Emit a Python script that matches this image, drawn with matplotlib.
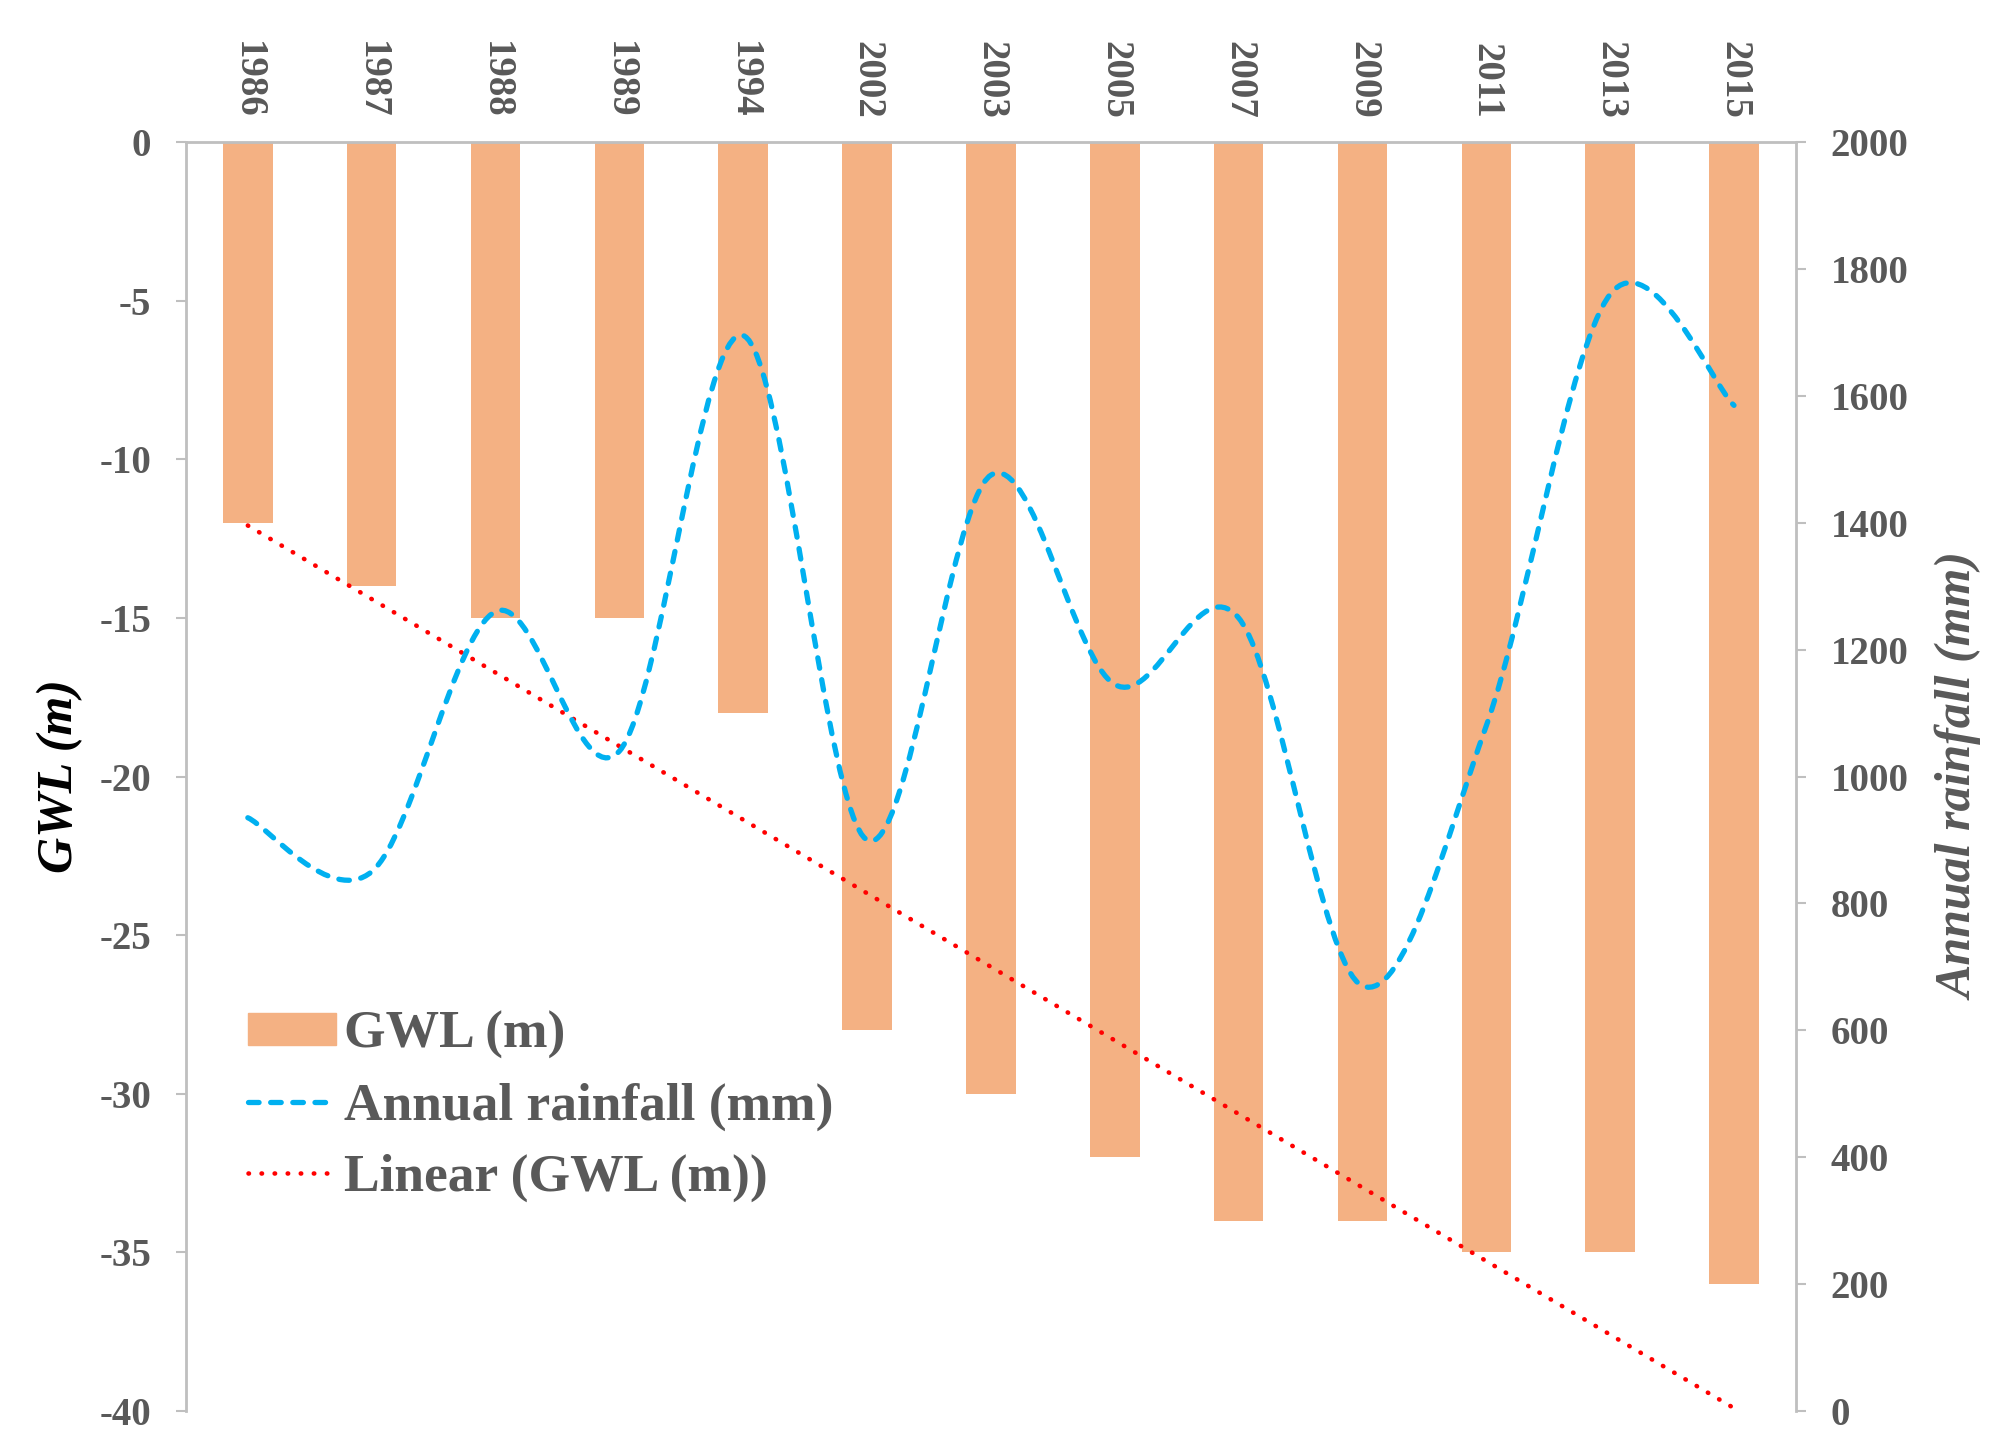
import numpy as np
import matplotlib
matplotlib.use("Agg")
import matplotlib.pyplot as plt
from matplotlib.path import Path
from matplotlib.patches import PathPatch
from matplotlib.lines import Line2D
import matplotlib.patches as mpatches

# data
years = ['1986', '1987', '1988', '1989', '1994', '2002', '2003',
         '2005', '2007', '2009', '2011', '2013', '2015']
gwl = [-12, -14, -15, -15, -18, -28, -30, -32, -34, -34, -35, -35, -36]
rainfall = [935, 850, 1260, 1040, 1695, 900, 1475, 1145, 1250, 670, 1080, 1760, 1585]

gwl_ticks = list(range(-40, 1, 5))
rain_ticks = list(range(0, 2001, 200))

BAR = '#F4B183'
BLUE = '#00B0F0'
RED = '#FF0000'
GREY = '#595959'
AXIS = '#BFBFBF'

plt.rcParams['font.family'] = ['Liberation Serif', 'DejaVu Serif']
plt.rcParams['font.weight'] = 'bold'
plt.rcParams['axes.unicode_minus'] = False


def smooth_path(xs, ys):
    """Excel-style smoothed line: cubic Bezier through every point."""
    pts = np.column_stack([xs, ys]).astype(float)
    n = len(pts)
    verts = [pts[0]]
    codes = [Path.MOVETO]
    for i in range(n - 1):
        p0 = pts[i - 1] if i > 0 else pts[i]
        p1 = pts[i]
        p2 = pts[i + 1]
        p3 = pts[i + 2] if i + 2 < n else pts[i + 1]
        c1 = p1 + (p2 - p0) / 6.0
        c2 = p2 - (p3 - p1) / 6.0
        verts += [c1, c2, p2]
        codes += [Path.CURVE4] * 3
    return Path(verts, codes)


fig = plt.figure(figsize=(20.12, 14.54), dpi=100)
ax = fig.add_axes([0.0924, 0.0296, 0.8002, 0.8727])
ax2 = ax.twinx()

x = np.arange(len(years))
ax.bar(x, gwl, width=0.4, color=BAR, zorder=2)

# linear trend of GWL
trend_style = dict(color=RED, lw=3.3, linestyle=(0, (0.1, 2.75)))
k, b = np.polyfit(x, gwl, 1)
ax.plot(x, k * x + b, dash_capstyle='round', zorder=3, **trend_style)

rain_style = dict(color=BLUE, lw=3.8, linestyle=(0, (2.0, 2.2)))
patch = PathPatch(smooth_path(x, rainfall), fill=False, capstyle='round',
                  **rain_style)
ax2.add_patch(patch)

ax.set_xlim(-0.5, len(years) - 0.5)
ax.set_ylim(-40, 0)
ax2.set_ylim(0, 2000)
ax.set_yticks(gwl_ticks)
ax2.set_yticks(rain_ticks)

ax.xaxis.tick_top()
ax.set_xticks(x)
ax.set_xticklabels(years, rotation=-90)
ax.tick_params(axis='x', length=0, pad=17, labelsize=28, labelcolor=GREY)
ax.tick_params(axis='y', length=7, width=1.5, color=AXIS, pad=18,
               labelsize=28, labelcolor=GREY)
ax2.tick_params(axis='y', length=7, width=1.5, color=AXIS, pad=18,
                labelsize=28, labelcolor=GREY)

for a in (ax, ax2):
    for s in a.spines.values():
        s.set_visible(False)
ax.spines['left'].set_visible(True)
ax.spines['top'].set_visible(True)
ax2.spines['right'].set_visible(True)
for s in (ax.spines['left'], ax.spines['top'], ax2.spines['right']):
    s.set_color(AXIS)
    s.set_linewidth(2)

ax.set_ylabel('GWL (m)', fontsize=36, style='italic', fontweight='bold',
              color='black', va='center')
ax.yaxis.set_label_coords(-0.078, 0.5)
ax2.set_ylabel('Annual rainfall (mm)', fontsize=36, style='italic',
               fontweight='bold', color=GREY, rotation=90, va='center')
ax2.yaxis.set_label_coords(1.102, 0.5)

handles = [
    mpatches.Patch(color=BAR, label='GWL (m)'),
    Line2D([], [], dash_capstyle='round', label='Annual rainfall (mm)', **rain_style),
    Line2D([], [], dash_capstyle='round', label='Linear (GWL (m))', **trend_style),
]
leg = ax2.legend(handles=handles, loc='center left', bbox_to_anchor=(0.0385, 0.24),
                 frameon=False, fontsize=38.5, handlelength=1.65, handleheight=0.55,
                 handletextpad=0.15, labelspacing=0.43, borderpad=0, borderaxespad=0)
for t in leg.get_texts():
    t.set_color(GREY)

fig.savefig('out.png', dpi=100)
